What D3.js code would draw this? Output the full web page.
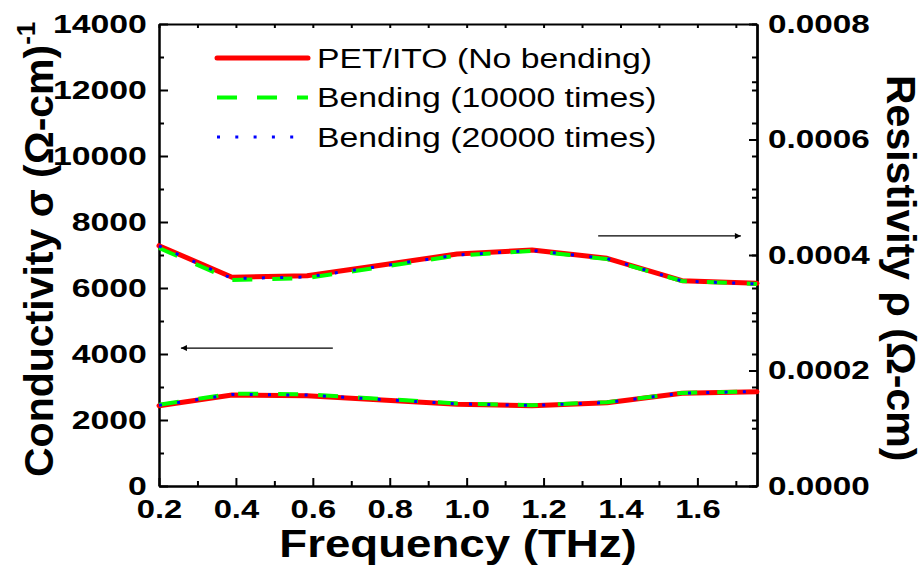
<!DOCTYPE html>
<html>
<head>
<meta charset="utf-8">
<script src="https://cdn.jsdelivr.net/npm/d3@7/dist/d3.min.js"></script>
<style>
  body { margin: 0; background: #fff; }
  svg { display: block; font-family: Arial, 'Liberation Sans', sans-serif; }
  .axis path, .axis line { stroke: #000; stroke-width: 2; }
  .axis text { font-weight: bold; font-size: 26px; fill: #000; }
</style>
</head>
<body>
<svg id="chart" width="924" height="568"></svg>
<script>
// frequency points (THz)
const frequency = [0.2, 0.39, 0.585, 0.78, 0.975, 1.17, 1.365, 1.56, 1.755];

// conductivity (left axis)
const sigmaNoBend = [2433, 2758, 2736, 2606, 2480, 2433, 2524, 2809, 2858];
const sigma10k = [2460, 2800, 2780, 2640, 2500, 2450, 2540, 2820, 2870];
const sigma20k = [2445, 2775, 2755, 2620, 2490, 2440, 2530, 2815, 2865];

// resistivity (right axis)
const rhoNoBend = [4.161e-4, 3.614e-4, 3.642e-4, 3.827e-4, 4.017e-4, 4.087e-4, 3.943e-4, 3.555e-4, 3.510e-4];
const rho10k = [4.121e-4, 3.567e-4, 3.602e-4, 3.792e-4, 3.991e-4, 4.069e-4, 3.931e-4, 3.550e-4, 3.498e-4];
const rho20k = [4.156e-4, 3.593e-4, 3.619e-4, 3.810e-4, 4.000e-4, 4.078e-4, 3.939e-4, 3.550e-4, 3.498e-4];

const seriesNames = ['PET/ITO (No bending)', 'Bending (10000 times)', 'Bending (20000 times)'];

// tick labels
const xTicks = [0.2, 0.4, 0.6, 0.8, 1.0, 1.2, 1.4, 1.6];
const xMinor = [0.3, 0.5, 0.7, 0.9, 1.1, 1.3, 1.5, 1.7];
const sigmaTicks = [0, 2000, 4000, 6000, 8000, 10000, 12000, 14000];
const sigmaMinor = [1000, 3000, 5000, 7000, 9000, 11000, 13000];
const rhoTicks = [0, 0.0002, 0.0004, 0.0006, 0.0008];
const rhoMinor = [0.0001, 0.0003, 0.0005, 0.0007];

const margin = { top: 24, right: 167, bottom: 82, left: 159 };
const width = 924, height = 568;
const w = width - margin.left - margin.right;
const h = height - margin.top - margin.bottom;

const styles = [
  { color: '#ff0000', width: 5, dash: null },
  { color: '#00ff00', width: 4, dash: '20,20' },
  { color: '#0000ff', width: 3, dash: '3,15.3' }
];

let svg = d3.select('#chart').append('g')
  .attr('transform', 'translate(' + margin.left + ',' + margin.top + ')');

let x = d3.scaleLinear().domain([0.2, 1.755]).range([0, w]);
let ySigma = d3.scaleLinear().domain([0, 14000]).range([h, 0]);
let yRho = d3.scaleLinear().domain([0, 0.0008]).range([h, 0]);

// --- axes ---
function noLabels(axis) { return axis.tickFormat('').tickSizeOuter(0); }

// top (mirror, short ticks)
svg.append('g').attr('class', 'axis')
  .call(noLabels(d3.axisTop(x).tickValues(xTicks.concat(xMinor)).tickSizeInner(-4)));

// bottom
svg.append('g').attr('class', 'axis')
  .attr('transform', 'translate(0,' + h + ')')
  .call(noLabels(d3.axisBottom(x).tickValues(xMinor).tickSizeInner(-5)));
svg.append('g').attr('class', 'axis x')
  .attr('transform', 'translate(0,' + h + ')')
  .call(d3.axisBottom(x).tickValues(xTicks).tickFormat(d3.format('.1f'))
    .tickSizeInner(-8).tickSizeOuter(0).tickPadding(14))
  .selectAll('text')
  .attr('transform', 'scale(1.26,1)');

// left
svg.append('g').attr('class', 'axis')
  .call(noLabels(d3.axisLeft(ySigma).tickValues(sigmaMinor).tickSizeInner(-5)));
svg.append('g').attr('class', 'axis yl')
  .call(d3.axisLeft(ySigma).tickValues(sigmaTicks).tickFormat(d3.format('d'))
    .tickSizeInner(-9).tickSizeOuter(0).tickPadding(9.3))
  .selectAll('text')
  .attr('transform', 'scale(1.3,1)');

// right: mirrored conductivity ticks + resistivity ticks
svg.append('g').attr('class', 'axis')
  .attr('transform', 'translate(' + w + ',0)')
  .call(noLabels(d3.axisRight(ySigma).tickValues(sigmaTicks.concat(sigmaMinor)).tickSizeInner(-5)));
svg.append('g').attr('class', 'axis')
  .attr('transform', 'translate(' + w + ',0)')
  .call(noLabels(d3.axisRight(yRho).tickValues(rhoMinor).tickSizeInner(-5)));
svg.append('g').attr('class', 'axis yr')
  .attr('transform', 'translate(' + w + ',0)')
  .call(d3.axisRight(yRho).tickValues(rhoTicks).tickFormat(d3.format('.4f'))
    .tickSizeInner(-8).tickSizeOuter(0).tickPadding(8.6))
  .selectAll('text')
  .attr('transform', 'scale(1.28,1)');

// --- lines ---
const sigmaSets = [sigmaNoBend, sigma10k, sigma20k];
const rhoSets = [rhoNoBend, rho10k, rho20k];

function drawLine(values, yScale, st) {
  let line = d3.line()
    .x(function(d, i) { return x(frequency[i]); })
    .y(function(d) { return yScale(d); });
  svg.append('path')
    .datum(values)
    .attr('d', line)
    .attr('fill', 'none')
    .attr('stroke', st.color)
    .attr('stroke-width', st.width)
    .attr('stroke-linejoin', 'round')
    .attr('stroke-linecap', st.dash ? 'butt' : 'round')
    .attr('stroke-dasharray', st.dash);
}

for (let k = 0; k < 3; k++) {
  drawLine(sigmaSets[k], ySigma, styles[k]);
  drawLine(rhoSets[k], yRho, styles[k]);
}

// --- arrows ---
d3.select('#chart').append('defs').append('marker')
  .attr('id', 'head')
  .attr('viewBox', '0 0 10 10')
  .attr('refX', 10).attr('refY', 5)
  .attr('markerWidth', 9).attr('markerHeight', 6)
  .attr('markerUnits', 'userSpaceOnUse')
  .attr('orient', 'auto')
  .append('path').attr('d', 'M0,0L10,5L0,10Z').attr('fill', '#000');

const arrows = [
  { x0: 0.652, x1: 0.257, v: 4180, scale: ySigma },
  { x0: 1.342, x1: 1.713, v: 0.000433, scale: yRho }
];
arrows.forEach(function(a) {
  svg.append('line')
    .attr('x1', x(a.x0)).attr('x2', x(a.x1))
    .attr('y1', a.scale(a.v)).attr('y2', a.scale(a.v))
    .attr('stroke', '#000').attr('stroke-width', 1.3)
    .attr('marker-end', 'url(#head)');
});

// --- legend ---
let legend = d3.select('#chart').append('g');
seriesNames.forEach(function(name, i) {
  let yy = 58 + i * 39.5;
  let st = styles[i];
  legend.append('line')
    .attr('x1', 217).attr('x2', 308).attr('y1', yy).attr('y2', yy)
    .attr('stroke', st.color).attr('stroke-width', st.width)
    .attr('stroke-linecap', st.dash ? 'butt' : 'round')
    .attr('stroke-dasharray', st.dash);
  legend.append('text')
    .attr('transform', 'translate(317,' + (yy + 9.5) + ') scale(1.25,1)')
    .attr('font-size', 27)
    .text(name);
});

// --- titles ---
let root = d3.select('#chart');
root.append('text')
  .attr('transform', 'translate(458,557) scale(1.17,1)')
  .attr('text-anchor', 'middle')
  .attr('font-size', 39).attr('font-weight', 'bold')
  .text('Frequency (THz)');

let lt = root.append('text')
  .attr('transform', 'translate(53,477) rotate(-90)')
  .attr('font-size', 41).attr('font-weight', 'bold');
lt.append('tspan').text('Conductivity \u03c3 (\u03a9-cm)');
lt.append('tspan').attr('font-size', 26).attr('dy', -18).text('-1');

root.append('text')
  .attr('transform', 'translate(887,75) rotate(90)')
  .attr('font-size', 41).attr('font-weight', 'bold')
  .text('Resistivity \u03c1 (\u03a9-cm)');
</script>
</body>
</html>
